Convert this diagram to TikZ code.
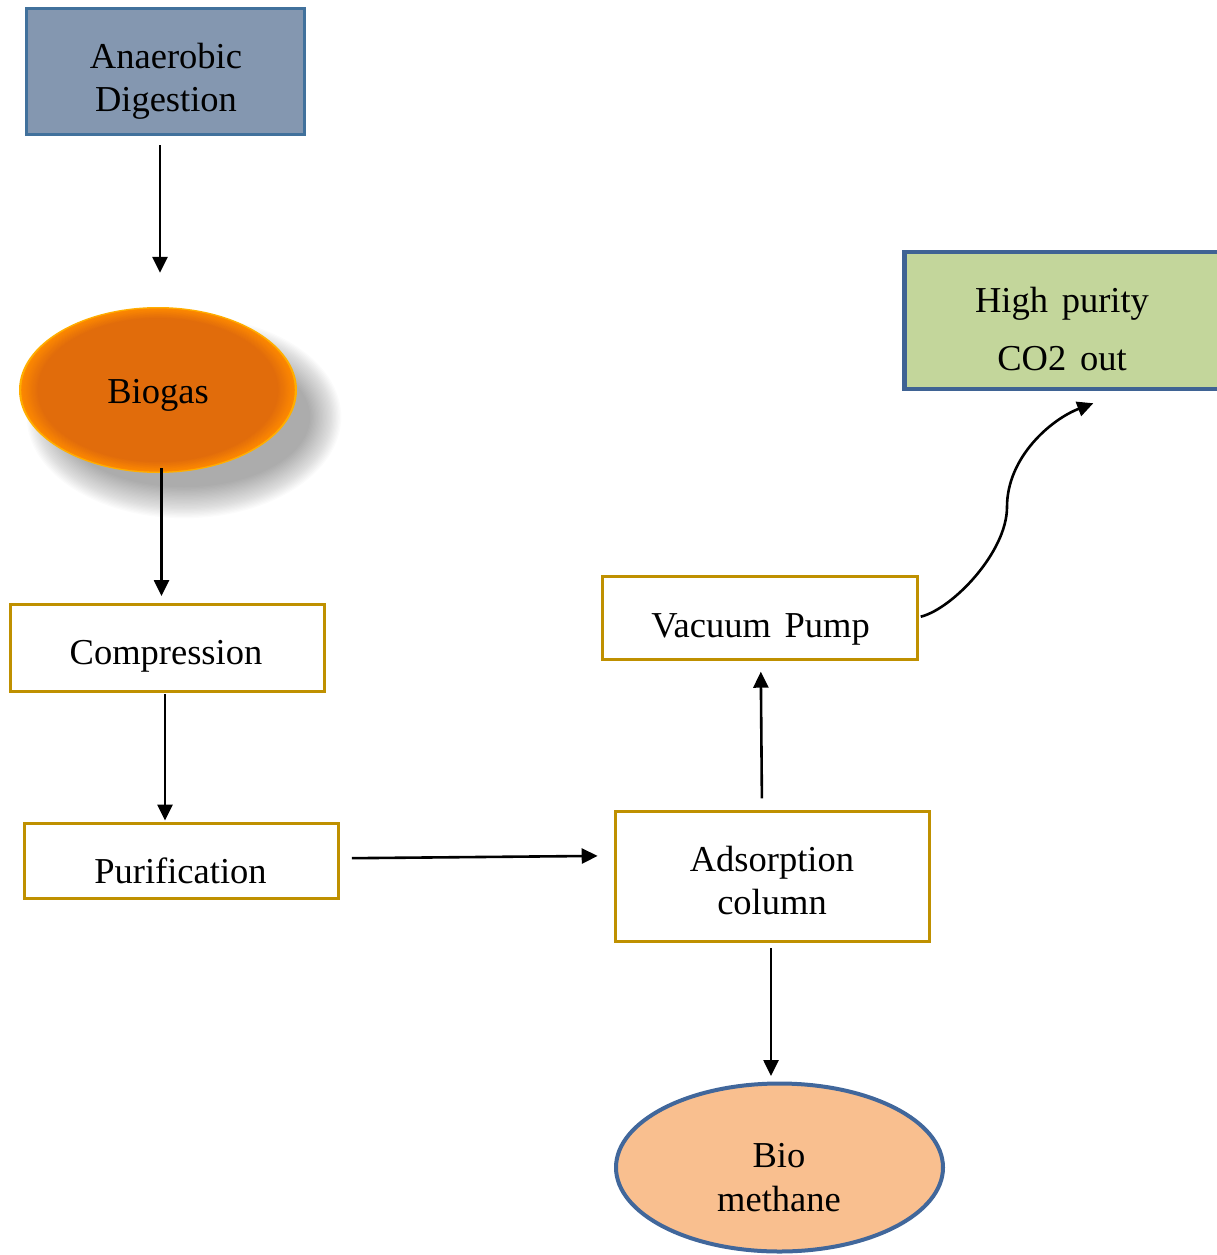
\documentclass[tikz,border=0pt]{standalone}
\usepackage{fontspec}
\setmainfont{Liberation Serif}[WordSpace=1.5]
\usetikzlibrary{arrows.meta,shapes.geometric}

\definecolor{digfill}{HTML}{8497B0}
\definecolor{digline}{HTML}{41719C}
\definecolor{gold}{HTML}{BF9000}
\definecolor{co2fill}{HTML}{C3D69B}
\definecolor{co2line}{HTML}{3F6394}
\definecolor{methfill}{HTML}{F9BF8F}
\definecolor{methline}{HTML}{41679B}
\definecolor{gasrim}{HTML}{FFAE00}
\definecolor{gasmid}{HTML}{FF8A00}
\definecolor{gasin}{HTML}{E16C0B}

\begin{document}
\begin{tikzpicture}[x=1pt,y=-1pt,
  every node/.style={inner sep=0pt},
  txt/.style={font=\fontsize{36.5}{43}\selectfont, align=center},
  flowbox/.style={rectangle, draw=gold, line width=3pt, fill=white},
  flow/.style={line width=2.6pt, -{Triangle[length=16pt,width=15pt]}},
]
\useasboundingbox (0,0) rectangle (1216,1255);

% source box
\node[rectangle, draw=digline, fill=digfill, line width=3pt,
      minimum width=278pt, minimum height=126pt] (dig) at (165.5,71.5) {};
\node[txt] (digt) at (166,81) {Anaerobic\\Digestion};

% soft shadow under the biogas ellipse
\foreach \k in {0,...,24}{
  \fill[black, opacity=0.017] (184,417) ellipse [x radius=126+\k*1.3, y radius=70+\k*1.3];
}
% biogas ellipse with glowing rim
\node[ellipse, fill=gasrim, minimum width=278pt, minimum height=166pt] (gas) at (158,390) {};
\foreach \i in {1,...,16}{
  \pgfmathsetmacro\f{1-0.008*(\i+1)}
  \pgfmathsetmacro\m{\i*100/16}
  \fill[gasin!\m!gasmid] (gas.center) ellipse [x radius=139*\f, y radius=83*\f];
}
\node[txt, anchor=base] (gast) at (158,403) {Biogas};

% process boxes
\node[flowbox, minimum width=313.5pt, minimum height=87pt] (comp) at (167.25,647.5) {};
\node[txt, anchor=base] (compt) at (166,664) {Compression};

\node[flowbox, minimum width=313.7pt, minimum height=75pt] (pur) at (181.6,860.5) {};
\node[txt, anchor=base] (purt) at (180.5,883) {Purification};

\node[flowbox, minimum width=314.5pt, minimum height=83pt] (vac) at (759.75,618) {};
\node[txt, anchor=base] (vact) at (760.5,637) {Vacuum Pump};

\node[flowbox, minimum width=313.5pt, minimum height=129.5pt] (ads) at (772.25,876.25) {};
\node[txt] (adst) at (772,880.4) {Adsorption\\column};

% products
\node[rectangle, draw=co2line, fill=co2fill, line width=4.5pt,
      minimum width=315pt, minimum height=137pt] (co2) at (1062,320.5) {};
\node[txt, font=\fontsize{36.5}{57.3}\selectfont] (co2t) at (1062,328.9) {High purity\\CO2 out};

\node[ellipse, draw=methline, fill=methfill, line width=4pt,
      minimum width=327pt, minimum height=168pt] (meth) at (779.5,1167.5) {};
\node[txt, font=\fontsize{36.5}{44}\selectfont] (metht) at (779,1177.3) {Bio\\methane};

% connectors
\draw[flow, shorten <=9pt, shorten >=34pt] ([xshift=-5.5pt]dig.south) -- ([xshift=2pt]gas.north);
\draw[flow, shorten <=-5pt, shorten >=6.5pt] ([xshift=3.5pt]gas.south) -- ([xshift=-5.75pt]comp.north);
\draw[flow, shorten <=1.5pt, shorten >=1pt] ([xshift=-2.25pt]comp.south) -- ([xshift=-16.6pt]pur.north);
\draw[flow, shorten <=12pt, shorten >=16.3pt] ([yshift=2.2pt]pur.east) -- ([yshift=20.5pt]ads.west);
\draw[flow, shorten <=11.7pt, shorten >=10.7pt] ([xshift=-10.25pt]ads.north) -- ([xshift=0.95pt]vac.south);
\draw[flow, shorten <=5.5pt, shorten >=5.5pt] ([xshift=-1.25pt]ads.south) -- ([xshift=-8.5pt]meth.north);

\coordinate (bend) at (1007,507);
\draw[flow] ([xshift=2.2pt,yshift=1.3pt]vac.east) .. controls +(32,-8) and +(0,45) .. (bend)
  .. controls +(0,-50) and +(-42,16) .. ([xshift=31.3pt,yshift=-12pt]co2.south);
\end{tikzpicture}
\end{document}
